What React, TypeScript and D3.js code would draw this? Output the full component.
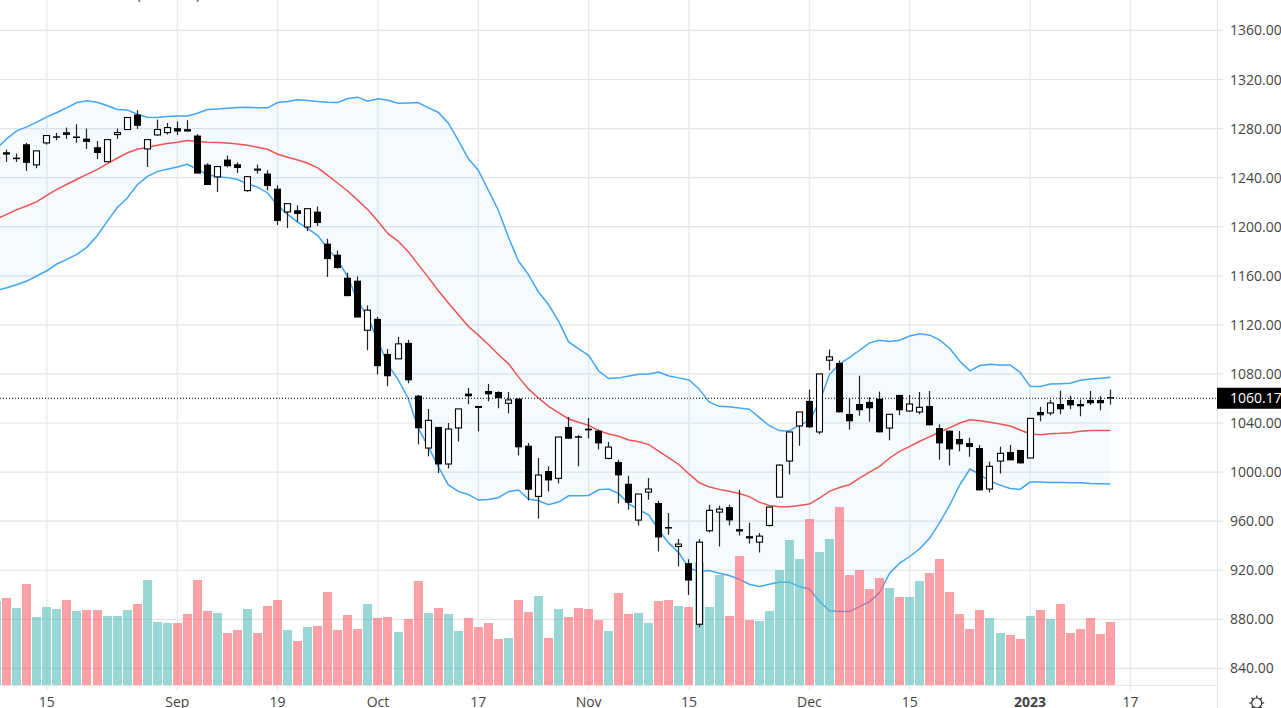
import React from 'react'
import * as d3 from 'd3'

// first entry of every series is the bar cut off by the left edge (index -1)
const opens = [
  1251, 1260.7, 1256.3, 1267.2, 1250.4, 1268.3, 1273.7, 1277, 1273.5, 1271.8, 1264.8,
  1253, 1275.1, 1279.2, 1291.4, 1263.4, 1274.8, 1276.7, 1280.3, 1279.5, 1274.3,
  1250.6, 1240.6, 1254.7, 1250.9, 1229.4, 1247.4, 1243.3, 1231, 1212, 1213.4,
  1199.8, 1212.3, 1186.2, 1177.2, 1158.4, 1156, 1115.6, 1124.9, 1096.3, 1092.3,
  1105.3, 1062.3, 1019.6, 1036.8, 1006.6, 1036, 1064, 1053.9, 1066.1, 1065.3,
  1056.1, 1059.9, 1021.5, 980.2, 1000.9, 994.9, 1036.8, 1029.2, 1035.4, 1033.8,
  1011.2, 1008.2, 990.5, 960.9, 983.7, 974.8, 955.2, 939.4, 925.8, 876,
  952.2, 967.4, 971.5, 953.5, 947.8, 942.9, 956.5, 979.6, 1009, 1037.6,
  1058, 1032.7, 1091.2, 1089, 1047.4, 1055.5, 1057.2, 1059.9, 1035.9, 1062.9,
  1049.8, 1049, 1053.9, 1035.9, 1033.8, 1027, 1023.7, 1019.6, 986.2, 1009,
  1016.4, 1018, 1011.5, 1049, 1048.2, 1055.5, 1058.8, 1055.5, 1058.8, 1058.8, 1061.2,
]
const highs = [
  1257, 1262.9, 1259.6, 1268.3, 1261.8, 1274.3, 1276.5, 1280.8, 1283.5, 1280, 1269.9,
  1271, 1280, 1289, 1295, 1271, 1287.3, 1284.6, 1285.7, 1286.8, 1275.4,
  1251.7, 1249, 1258, 1252.5, 1241.4, 1250.6, 1246, 1233.8, 1218.8, 1217.4,
  1214.7, 1216.4, 1190.2, 1180.7, 1162.5, 1159.5, 1135.8, 1126.5, 1100.4, 1110.2,
  1107.8, 1062.9, 1051.5, 1036.8, 1040, 1051.5, 1068.6, 1053.9, 1071.9, 1065.9,
  1065.3, 1059.9, 1023.7, 1011.5, 1004.7, 1028.6, 1044.9, 1030.2, 1044.1, 1034.6,
  1024.5, 1010.1, 997, 982.1, 995.2, 976.7, 966.6, 945.6, 929, 945.4,
  973.4, 972.6, 973.4, 985.6, 958.7, 950.3, 971.5, 1006.3, 1032.7, 1049,
  1067.2, 1080, 1099.9, 1090.9, 1060.4, 1078.6, 1061.2, 1065.6, 1047.1, 1062.9,
  1062.9, 1065.3, 1066.1, 1038.9, 1033.8, 1033.5, 1028, 1022.1, 1008.5, 1020.7,
  1022.1, 1018, 1043.8, 1053.1, 1059, 1066.4, 1062.3, 1059, 1066.1, 1061.8, 1067.2,
]
const lows = [
  1251, 1252.8, 1252.8, 1245.5, 1247.6, 1266.9, 1270.5, 1271.6, 1268.3, 1263.4, 1255.2,
  1253, 1271.6, 1279.2, 1279.7, 1248.7, 1274.3, 1275.1, 1274.8, 1277.6, 1243.3,
  1234, 1228.3, 1248.4, 1243.8, 1228.6, 1243.3, 1229.7, 1201.4, 1199, 1203.8,
  1196.5, 1200.6, 1159, 1165.8, 1143.4, 1126, 1099.3, 1079.7, 1070, 1092.3,
  1072.4, 1022.6, 1012.8, 999.2, 1003, 1025, 1055.3, 1033.2, 1057.7, 1052,
  1047.9, 1013.6, 976.9, 962.2, 984.3, 990.8, 1027.2, 1004.7, 1027.5, 1018.5,
  1010.4, 974.5, 969.3, 956.5, 977.5, 935.3, 948.9, 923.1, 899.9, 873.6,
  950.8, 939.4, 956.5, 948.4, 941.8, 934.5, 955.7, 979.6, 998.1, 1021.5,
  1035.9, 1030.8, 1083, 1048.7, 1034.6, 1046, 1041.1, 1032.4, 1025.9, 1046.3,
  1049, 1047.1, 1038.1, 1010.1, 1005.5, 1016.9, 1012.5, 985.1, 983.4, 998.9,
  1009.6, 1007.1, 1011.5, 1041.4, 1046.3, 1047.1, 1051.2, 1045.5, 1054.7, 1050.4, 1055,
]
const closes = [
  1257, 1258.8, 1255.2, 1252, 1261.8, 1274.3, 1273.2, 1274.8, 1272.9, 1269.1, 1260.1,
  1271, 1276.7, 1289, 1282.2, 1271, 1279.2, 1280.8, 1277.6, 1277.6, 1243.3,
  1234, 1249, 1249.3, 1247.9, 1240.8, 1245.7, 1233.2, 1204.7, 1218.8, 1210.4,
  1214.7, 1203, 1173.6, 1166.3, 1143.4, 1126, 1132, 1086.3, 1078.1, 1104.5,
  1074.8, 1035.7, 1042.2, 1006.3, 1035.1, 1051.5, 1061.8, 1052.3, 1063.4, 1060.2,
  1058.8, 1020.2, 985.6, 997.6, 993.2, 1028.6, 1027.2, 1028.3, 1034, 1023.4,
  1020.4, 997.3, 975, 982.1, 986.2, 946.7, 954.1, 941.3, 911.6, 942.9,
  968.8, 969.8, 960.6, 951.6, 945.9, 947.8, 971.5, 1005.7, 1032.7, 1049,
  1036.5, 1080, 1093.9, 1048.7, 1041.4, 1050.4, 1052, 1032.4, 1047.1, 1050.4,
  1055.5, 1052.8, 1038.1, 1023.4, 1018.5, 1022.6, 1020.4, 985.1, 1004.7, 1015.3,
  1009.6, 1007.1, 1043.8, 1046.3, 1056.3, 1051.2, 1054.4, 1053.6, 1056.1, 1056.1, 1060.2,
]

const upperBand = [
  1263.7, 1271.8, 1278.1, 1281.4, 1285.2, 1289.5, 1293.1, 1297.1, 1301.2, 1302.6, 1301.5,
  1298.8, 1295.5, 1295.2, 1291.7, 1289.2, 1289, 1289.8, 1290.3, 1290.3, 1292.5,
  1295.5, 1296, 1296.6, 1297.1, 1297.4, 1296.9, 1296.9, 1301.2, 1302, 1303.4,
  1302.8, 1302, 1301.5, 1301.2, 1304.5, 1305.6, 1302.3, 1304.2, 1303.1, 1300.7,
  1300.9, 1301.2, 1297.1, 1293.3, 1284.6, 1270.5, 1255.5, 1246, 1229.7, 1213.4,
  1191.6, 1172, 1160.9, 1146.8, 1136.6, 1123, 1106.1, 1100.4, 1095.2, 1082.4,
  1076.2, 1076.8, 1078.4, 1079.7, 1080, 1081.6, 1078.4, 1076.8, 1075.1, 1067.8,
  1057.2, 1053.6, 1053.2, 1052.3, 1051.2, 1044.6, 1037.8, 1033.8, 1033.5, 1038.4,
  1041.9, 1057, 1079.5, 1088, 1093.5, 1099.3, 1105.3, 1107.5, 1106.4, 1107.5,
  1111, 1112.7, 1111.6, 1107.5, 1100.7, 1090.4, 1082.5, 1086.8, 1087.9, 1087.3,
  1087.3, 1081.4, 1069.9, 1069.7, 1071.8, 1072.1, 1072.4, 1074.8, 1075.9, 1076.5, 1077.3,
]
const basisLine = [
  1206.3, 1210.1, 1213.9, 1216.9, 1220.4, 1225.6, 1230.5, 1234.6, 1238.7, 1242.7, 1246.5,
  1251.2, 1255.8, 1260.1, 1263.1, 1264.5, 1266.4, 1267.8, 1268.8, 1270.2, 1269.4,
  1268.8, 1268.6, 1268.3, 1267.5, 1266.4, 1264.8, 1263.1, 1259.1, 1256.6, 1254.4,
  1251.7, 1247.9, 1241.9, 1235.4, 1228.9, 1221.5, 1213.9, 1204.4, 1194.3, 1188.3,
  1179.9, 1169.3, 1158.9, 1148, 1138, 1128.4, 1118.9, 1111.6, 1104, 1095.8,
  1088.4, 1077.6, 1067.8, 1060.4, 1053.6, 1048.5, 1043.3, 1040.6, 1038.1, 1033.8,
  1031, 1029.2, 1026.2, 1024.8, 1022.4, 1016.9, 1011.5, 1006, 998.5, 991.5,
  988, 985.9, 984.4, 982.6, 980, 975.5, 972.8, 971.7, 971.7, 972.8,
  973.9, 978.8, 984.3, 987.5, 989.7, 995.1, 1000, 1004.7, 1011.5, 1016.9,
  1021, 1025.1, 1028.9, 1032.7, 1036.2, 1040, 1042.7, 1041.9, 1040.6, 1039.2,
  1037.6, 1034.3, 1031, 1030.5, 1031.3, 1031.6, 1032.1, 1033.2, 1033.8, 1033.8, 1034,
]
const lowerBand = [
  1148.1, 1150.3, 1152.7, 1155.7, 1159.8, 1164.1, 1169.6, 1173.4, 1177.5, 1183.4, 1192.4,
  1204.1, 1215.5, 1223.2, 1234, 1240.8, 1244.9, 1246.8, 1248.7, 1250.9, 1246.8,
  1242.5, 1240.8, 1240, 1238.4, 1234.8, 1232.3, 1227.5, 1217.4, 1210.1, 1203.8,
  1198.4, 1192.7, 1182.1, 1172.6, 1159, 1139.3, 1126.3, 1106.7, 1087.6, 1075.4,
  1060.4, 1036, 1021, 1004.7, 989.7, 984.3, 981.8, 977.2, 977.7, 979.1,
  984, 985.4, 978, 976.7, 973.4, 975.6, 980.7, 980.7, 981, 985.6,
  986.2, 982.4, 974, 969.3, 965, 952.4, 942.1, 934, 921.7, 919,
  919.8, 917.6, 915.7, 912.7, 908.6, 906.7, 908.6, 910.3, 910.3, 906.7,
  904.8, 894.5, 886.9, 886.3, 886.3, 890.4, 894.5, 901.8, 917.6, 925.8,
  931.2, 937.5, 946.2, 959, 973.4, 989.7, 1002.5, 997.9, 992.7, 989.4,
  986.7, 985.9, 991.9, 991.9, 991.6, 991.6, 991.3, 991.3, 990.8, 990.5, 990.2,
]

const volumes = [
  84, 87, 77, 101, 68, 78, 76, 85, 74, 75, 75,
  69, 69, 75, 81, 105, 63, 62, 62, 71, 105,
  74, 72, 52, 55, 76, 52, 79, 85, 55, 44,
  58, 59, 93, 55, 70, 56, 81, 67, 68, 53,
  66, 104, 72, 77, 71, 54, 67, 58, 62, 46,
  47, 85, 73, 89, 47, 76, 68, 77, 76, 65,
  54, 92, 71, 72, 62, 84, 85, 79, 78, 123,
  78, 110, 69, 129, 65, 64, 74, 115, 145, 126,
  166, 133, 146, 178, 110, 115, 96, 107, 97, 88,
  88, 104, 112, 126, 93, 71, 56, 75, 67, 52,
  50, 46, 69, 75, 66, 81, 52, 56, 67, 51, 63,
]
const volumeUp = [
  1, 0, 1, 0, 1, 1, 1, 0, 1, 0, 0,
  1, 1, 1, 0, 1, 1, 1, 0, 0, 0,
  0, 1, 0, 0, 1, 0, 0, 0, 1, 0,
  1, 0, 0, 0, 0, 0, 1, 0, 0, 1,
  0, 0, 1, 0, 1, 1, 0, 0, 0, 0,
  1, 0, 0, 1, 0, 1, 0, 0, 0, 0,
  1, 0, 0, 1, 1, 0, 0, 1, 0, 1,
  1, 1, 0, 0, 0, 1, 1, 1, 1, 1,
  0, 1, 1, 0, 0, 0, 0, 0, 1, 0,
  1, 1, 0, 0, 0, 0, 0, 0, 1, 1,
  0, 0, 1, 0, 1, 0, 0, 0, 0, 0, 0,
]

const priceTicks = [1360, 1320, 1280, 1240, 1200, 1160, 1120, 1080, 1040, 1000, 960, 920, 880, 840]
const timeTickBars = [4, 17, 27, 37, 47, 58, 68, 80, 90, 102, 112]
const timeTickLabels = ['15', 'Sep', '19', 'Oct', '17', 'Nov', '15', 'Dec', '15', '2023', '17']
const lastPrice = 1060.17

const width = 1281
const height = 708
const paneRight = 1217
const paneBottom = 685
const fontFamily = '"Open Sans", sans-serif'

const x = d3.scaleLinear().domain([0, 110]).range([6.7, 1110.4])
const y = d3.scaleLinear().domain([840, 1360]).range([668.4, 30.4])
const volumeY = d3.scaleLinear().domain([0, 178]).range([paneBottom, paneBottom - 178])

const bars = d3.range(opens.length).map((i) => i - 1)
const crisp = (v: number) => Math.floor(v) + 0.5

const bandLine = (values: number[]) =>
  d3
    .line<number>()
    .x((bar) => x(bar))
    .y((bar) => y(values[bar + 1]))(bars) as string

const bandArea = d3
  .area<number>()
  .x((bar) => x(bar))
  .y0((bar) => y(lowerBand[bar + 1]))
  .y1((bar) => y(upperBand[bar + 1]))(bars) as string

const sunRays = d3.range(8).map((i) => (i * Math.PI) / 4)

const App: React.FC = () => {
  return (
    <svg
      width={width}
      height={height}
      style={{ position: 'absolute', left: 0, top: 0, background: '#fff', fontFamily }}
    >
      {/* clipped legend text above the pane */}
      <text x={137} y={0} fontSize={13} fill="#444">(</text>
      <text x={196} y={0} fontSize={13} fill="#444">)</text>

      {/* grid */}
      {priceTicks.map((p) => (
        <line key={p} x1={0} x2={paneRight + 6} y1={y(p)} y2={y(p)} stroke="#e2e4ea" strokeWidth={1.2} />
      ))}
      {timeTickBars.map((bar) => (
        <line key={bar} x1={x(bar)} x2={x(bar)} y1={0} y2={paneBottom + 5} stroke="#e8eaf0" strokeWidth={1.4} />
      ))}

      {/* bollinger bands */}
      <path d={bandArea} fill="#2196f3" fillOpacity={0.05} />
      <path d={bandLine(upperBand)} fill="none" stroke="#42a5f5" strokeWidth={1.5} />
      <path d={bandLine(lowerBand)} fill="none" stroke="#42a5f5" strokeWidth={1.5} />
      <path d={bandLine(basisLine)} fill="none" stroke="#ef5350" strokeWidth={1.5} />

      {/* volume */}
      {bars.map((bar) => {
        const v = volumes[bar + 1]
        return (
          <rect
            key={bar}
            x={Math.round(x(bar) - 4.5)}
            y={volumeY(v)}
            width={9}
            height={paneBottom - volumeY(v)}
            fill={volumeUp[bar + 1] ? '#53bdb7' : '#ff5f6b'}
            fillOpacity={0.6}
          />
        )
      })}

      {/* last price line */}
      <line
        x1={0}
        x2={paneRight}
        y1={y(lastPrice)}
        y2={y(lastPrice)}
        stroke="#000"
        strokeWidth={1}
        strokeDasharray="1 2"
      />

      {/* candles */}
      {bars.map((bar) => {
        const i = bar + 1
        const cx = crisp(x(bar))
        const up = closes[i] >= opens[i]
        const top = y(Math.max(opens[i], closes[i]))
        const bottom = y(Math.min(opens[i], closes[i]))
        return (
          <g key={bar}>
            <line x1={cx} x2={cx} y1={y(highs[i])} y2={y(lows[i])} stroke="#222" strokeWidth={1.2} />
            {up ? (
              <rect x={cx - 3} y={top} width={6} height={Math.max(bottom - top, 1)} fill="#fff" stroke="#000" strokeWidth={1.1} />
            ) : (
              <rect x={cx - 3.5} y={top} width={7} height={Math.max(bottom - top, 1.5)} fill="#000" />
            )}
          </g>
        )
      })}

      {/* axes */}
      <rect x={paneRight} y={0} width={width - paneRight} height={height} fill="#fff" />
      {priceTicks.map((p) => (
        <line key={p} x1={paneRight} x2={paneRight + 6} y1={y(p)} y2={y(p)} stroke="#e2e4ea" strokeWidth={1.2} />
      ))}
      <line x1={paneRight + 0.5} x2={paneRight + 0.5} y1={0} y2={height} stroke="#e3e5ea" />
      <line x1={0} x2={paneRight} y1={paneBottom + 0.5} y2={paneBottom + 0.5} stroke="#e3e5ea" />
      {priceTicks.map((p) => (
        <text key={p} x={1230} y={y(p)} dy="0.36em" fontSize={14} fill="#444">
          {d3.format('.2f')(p)}
        </text>
      ))}
      {timeTickBars.map((bar, i) => (
        <text
          key={bar}
          x={x(bar)}
          y={707}
          textAnchor="middle"
          fontSize={14}
          fontWeight={timeTickLabels[i] === '2023' ? 700 : 400}
          fill="#444"
        >
          {timeTickLabels[i]}
        </text>
      ))}

      {/* last price label */}
      <rect x={paneRight} y={y(lastPrice) - 10.5} width={width - paneRight} height={21} fill="#000" />
      <text x={1230} y={y(lastPrice)} dy="0.36em" fontSize={14} fill="#fff">
        {d3.format('.2f')(lastPrice)}
      </text>

      {/* settings icon */}
      <g transform="translate(1256.7,703)" stroke="#333" fill="none" strokeWidth={1.2}>
        <circle r={5} />
        {sunRays.map((a) => (
          <line key={a} x1={Math.cos(a) * 5} y1={Math.sin(a) * 5} x2={Math.cos(a) * 7.5} y2={Math.sin(a) * 7.5} />
        ))}
      </g>
    </svg>
  )
}

export default App
